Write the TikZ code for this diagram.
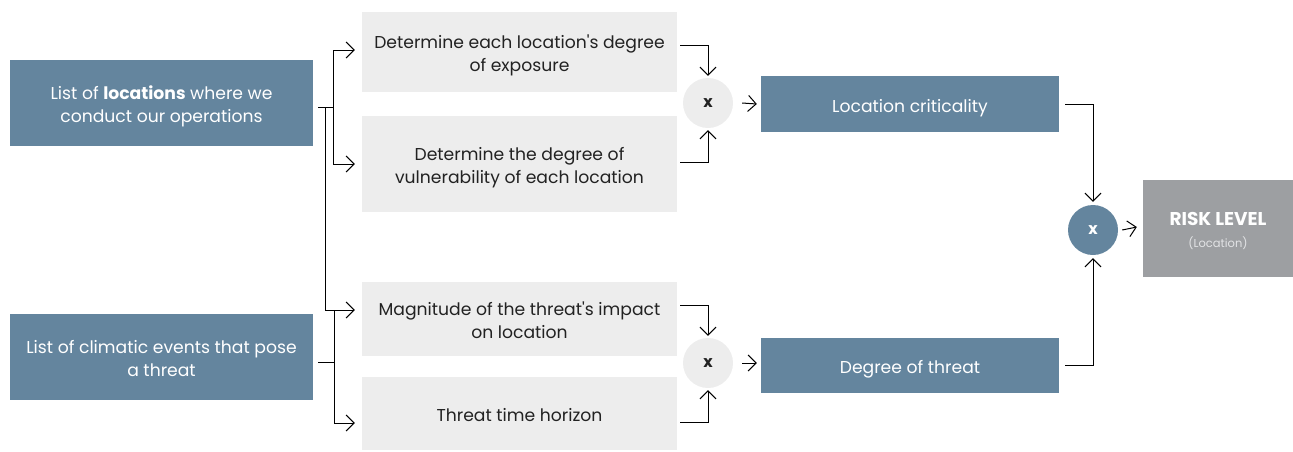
\documentclass[tikz,border=0pt]{standalone}
\usepackage{fontspec}
\setmainfont{Poppins}[Ligatures=TeXOff]
\usetikzlibrary{arrows.meta}
\definecolor{steel}{HTML}{64859E}
\definecolor{pale}{HTML}{EDEDED}
\definecolor{riskgray}{HTML}{9D9FA2}
\definecolor{ink}{HTML}{222222}
\definecolor{soft}{HTML}{E2E3E5}
\newcommand{\txtlines}[1]{\begin{tabular}{@{}c@{}}\rule{0pt}{22.75pt}#1\end{tabular}}
\begin{document}
\begin{tikzpicture}[x=1pt,y=-1pt,
  font=\fontsize{17.2}{22.5}\selectfont,
  box/.style={inner sep=0pt,anchor=center},
  bluebox/.style={box,fill=steel,text=white,minimum width=303pt},
  greybox/.style={box,fill=pale,text=ink,minimum width=315pt},
  resbox/.style={box,fill=steel,text=white,minimum width=298pt},
  mult/.style={circle,inner sep=0pt,minimum size=50pt,font=\fontsize{16}{18}\selectfont\bfseries},
  arr/.style={draw=black,line width=1pt,-{Straight Barb[length=8pt,width=16pt,line width=1pt]}},
  ln/.style={draw=black,line width=1pt}]
\useasboundingbox (0,0) rectangle (1293,451);
% left boxes
\node[bluebox,minimum height=86pt] (L1) at (161.5,103) {\txtlines{List of \textbf{locations} where we\\conduct our operations}};
\node[bluebox,minimum height=86pt] (L2) at (161.5,357) {\txtlines{List of climatic events that pose\\a threat}};
% middle boxes
\node[greybox,minimum height=80pt] (A) at (519.5,52) {\txtlines{Determine each location's degree\\of exposure}};
\node[greybox,minimum height=96pt] (B) at (519.5,164) {\txtlines{Determine the degree of\\vulnerability of each location}};
\node[greybox,minimum height=74pt] (C) at (519.5,319) {\txtlines{Magnitude of the threat's impact\\on location}};
\node[greybox,minimum height=73pt] (D) at (519.5,413.5) {\txtlines{Threat time horizon}};
% multiply circles
\node[mult,fill=pale,text=ink] (M1) at (708,103) {x};
\node[mult,fill=pale,text=ink] (M2) at (708,363) {x};
% results
\node[resbox,minimum height=56pt] (LC) at (910,104) {\txtlines{Location criticality}};
\node[resbox,minimum height=55pt] (DT) at (910,365.5) {\txtlines{Degree of threat}};
\node[mult,fill=steel,text=white] (M3) at (1093,230) {x};
\node[box,fill=riskgray,minimum width=150pt,minimum height=97pt] (R) at (1218,228.5)
  {\txtlines{\textcolor{white}{\fontsize{18.5}{20}\selectfont\bfseries RISK LEVEL}\\[-1pt]{\fontsize{11.5}{16}\selectfont\textcolor{soft}{(Location)}}}};
% brackets from the left boxes
\coordinate (j1) at (333,107);
\coordinate (j2) at (325,107);
\coordinate (j3) at (334,362);
\coordinate (j4) at (334,310);
\draw[ln] ([xshift=5pt,yshift=-4pt]L1.east) -- (j1);
\draw[arr] (j1) |- ([xshift=-7pt,yshift=2pt]A.west);
\draw[arr] (j1) |- ([xshift=-7pt]B.west);
\draw[arr] (j2) |- ([xshift=-7pt,yshift=9pt]C.west);
\draw[ln] ([xshift=5pt,yshift=-5pt]L2.east) -- (j3);
\draw[arr] (j4) |- ([xshift=-7pt,yshift=-9.5pt]D.west);
% middle to circles
\draw[arr] ([xshift=3pt,yshift=7pt]A.east) -| ([yshift=2pt]M1.north);
\draw[arr] ([xshift=3pt,yshift=2pt]B.east) -| ([yshift=-2pt]M1.south);
\draw[arr] ([xshift=3pt,yshift=14pt]C.east) -| ([yshift=2pt]M2.north);
\draw[arr] ([xshift=3pt,yshift=-8.5pt]D.east) -| ([yshift=-2pt]M2.south);
\draw[arr] ([xshift=9pt]M1.east) -- ([xshift=-4pt]LC.west);
\draw[arr] ([xshift=9pt]M2.east) -- ([xshift=-4pt,yshift=2.5pt]DT.west);
% to risk level
\draw[arr] ([xshift=6pt]LC.east) -| ([yshift=3pt]M3.north);
\draw[arr] ([xshift=6pt,yshift=0.5pt]DT.east) -| ([yshift=-3pt]M3.south);
\draw[arr] ([xshift=4pt]M3.east) -- ([xshift=-6pt,yshift=1.5pt]R.west);
\end{tikzpicture}
\end{document}
